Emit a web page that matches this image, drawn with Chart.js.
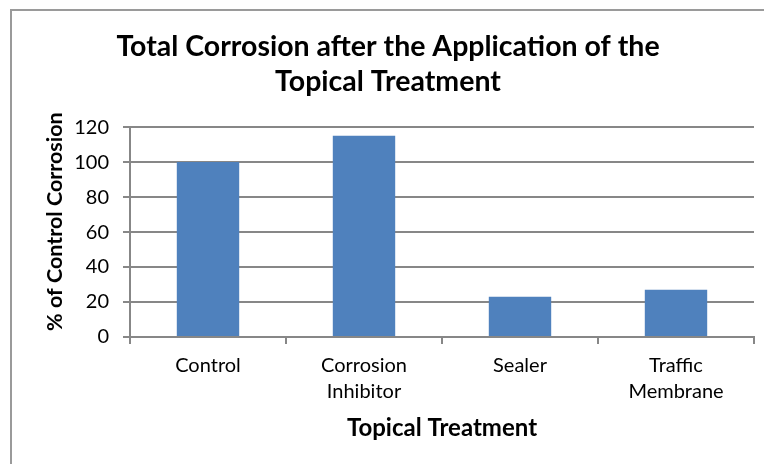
<!DOCTYPE html>
<html>
<head>
<meta charset="utf-8">
<script src="https://cdn.jsdelivr.net/npm/chart.js@4"></script>
<style>
  html, body { margin: 0; padding: 0; background: #fff; }
  #wrap { position: relative; width: 764px; height: 464px; }
</style>
</head>
<body>
<div id="wrap"><canvas id="chart"></canvas></div>
<script>
// chart data
const treatments = [['Control'], ['Corrosion', 'Inhibitor'], ['Sealer'], ['Traffic', 'Membrane']];
const corrosionPct = [100, 115, 23, 27];
const yTicks = { min: 0, max: 120, step: 20 };

const chartTitle = ['Total Corrosion after the Application of the', 'Topical Treatment'];
const xTitle = 'Topical Treatment';
// leading spaces nudge the rotated title up a little, like the original
const yTitle = '\u00a0\u00a0\u00a0\u00a0% of Control Corrosion';

const gridGray = '#878787';

Chart.defaults.font.family = 'Lato';
Chart.defaults.color = '#000';

// outer frame of the chart (the right/bottom edges are cut off in the original)
const framePlugin = {
    id: 'frame',
    beforeDraw(chart) {
        const ctx = chart.ctx;
        ctx.save();
        ctx.strokeStyle = '#9a9a9a';
        ctx.lineWidth = 2;
        ctx.beginPath();
        ctx.moveTo(11, 464);
        ctx.lineTo(11, 10);
        ctx.lineTo(764, 10);
        ctx.stroke();
        ctx.restore();
    }
};

new Chart(document.getElementById('chart'), {
    type: 'bar',
    data: {
        labels: treatments,
        datasets: [{
            data: corrosionPct,
            backgroundColor: '#4F81BD',
            borderWidth: 0,
            categoryPercentage: 1,
            barPercentage: 0.4
        }]
    },
    options: {
        responsive: true,
        maintainAspectRatio: false,
        animation: false,
        layout: { padding: { left: 22, right: 10, top: 0, bottom: 0 } },
        plugins: {
            legend: { display: false },
            tooltip: { enabled: false },
            title: {
                display: true,
                text: chartTitle,
                color: '#000',
                font: { size: 28.5, weight: 'bold', lineHeight: 1.23 },
                padding: { top: 29, bottom: 28 }
            }
        },
        scales: {
            x: {
                afterFit(scale) { scale.height = 127; },
                grid: { drawOnChartArea: false, drawTicks: true, tickLength: 7, color: gridGray, lineWidth: 2 },
                border: { display: true, color: gridGray, width: 2 },
                ticks: { font: { size: 20, lineHeight: 1.3 }, padding: 9, maxRotation: 0 },
                title: {
                    display: true,
                    text: xTitle,
                    font: { size: 24, weight: 'bold', lineHeight: 1.2 },
                    padding: { top: 0, bottom: 21 }
                }
            },
            y: {
                min: yTicks.min,
                max: yTicks.max,
                afterFit(scale) { scale.width = 108; },
                grid: { color: gridGray, lineWidth: 2, tickLength: 7 },
                border: { display: true, color: gridGray, width: 2 },
                ticks: { stepSize: yTicks.step, font: { size: 20 }, padding: 14 },
                title: {
                    display: true,
                    text: yTitle,
                    font: { size: 21.5, weight: 'bold', lineHeight: 1.2 },
                    padding: { top: 20, bottom: 0 }
                }
            }
        }
    },
    plugins: [framePlugin]
});
</script>
</body>
</html>
